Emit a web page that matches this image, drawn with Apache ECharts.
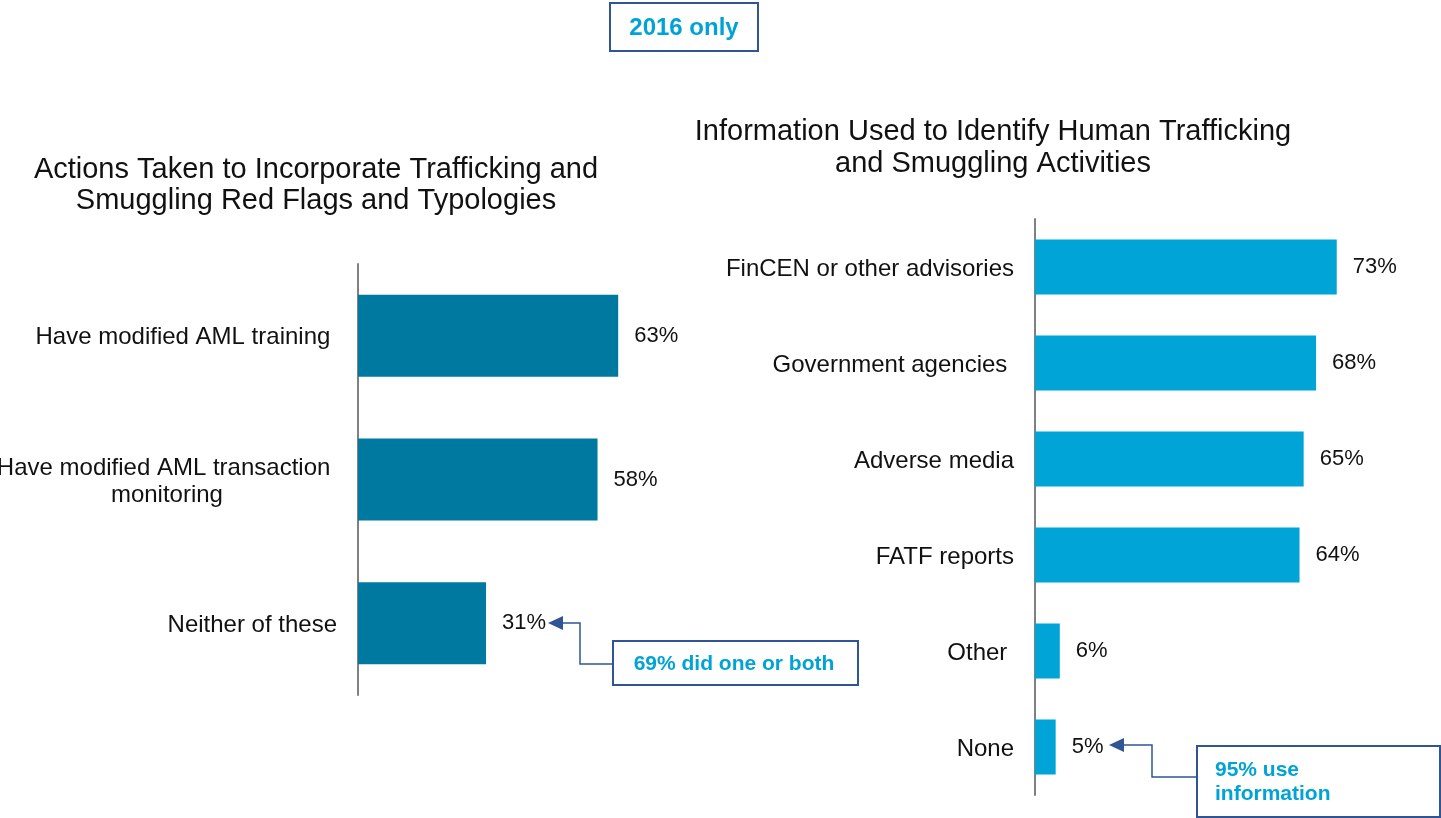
<!DOCTYPE html>
<html>
<head>
<meta charset="utf-8">
<script src="https://cdn.jsdelivr.net/npm/echarts@6/dist/echarts.min.js"></script>
<style>
  html, body { margin: 0; padding: 0; background: #fff; }
  #chart { width: 1441px; height: 818px; }
</style>
</head>
<body>
<div id="chart"></div>
<script>
// left panel: actions taken
const actionLabels = ['Have modified AML training ', 'Have modified AML transaction \nmonitoring', 'Neither of these'];
const actionValues = [63, 58, 31];

// right panel: information used
const infoLabels = ['FinCEN or other advisories', 'Government agencies ', 'Adverse media', 'FATF reports', 'Other ', 'None'];
const infoValues = [73, 68, 65, 64, 6, 5];

const FONT = 'Liberation Sans, Arial, sans-serif';
const boxBlue = '#2F5597';
const textBlue = '#00A3D6';

const chart = echarts.init(document.getElementById('chart'));

const catAxis = (grid, labels) => ({
  type: 'category',
  gridIndex: grid,
  data: labels,
  inverse: true,
  axisLine: { show: true, lineStyle: { color: '#808080', width: 2 } },
  axisTick: { show: false },
  splitLine: { show: false },
  axisLabel: {
    margin: 21,
    align: 'right',
    formatter: v => '{c|' + v + '}',
    rich: { c: { fontFamily: FONT, fontSize: 24, color: '#111', align: 'center', lineHeight: 27, padding: [4, 0, 0, 0] } }
  }
});

const valLabel = {
  show: true,
  position: 'right',
  distance: 16,
  formatter: '{c}%',
  fontFamily: FONT,
  fontSize: 22,
  color: '#111',
  padding: [3, 0, 0, 0]
};

chart.setOption({
  animation: false,
  textStyle: { fontFamily: FONT },
  title: [
    {
      text: 'Actions Taken to Incorporate Trafficking and\nSmuggling Red Flags and Typologies',
      left: 311, top: 149, textAlign: 'center',
      textStyle: { fontFamily: FONT, fontSize: 29, fontWeight: 'normal', color: '#111', lineHeight: 31 }
    },
    {
      text: 'Information Used to Identify Human Trafficking\nand Smuggling Activities',
      left: 988, top: 111, textAlign: 'center',
      textStyle: { fontFamily: FONT, fontSize: 29, fontWeight: 'normal', color: '#111', lineHeight: 32 }
    }
  ],
  grid: [
    { left: 358, top: 264, width: 413, height: 431, outerBoundsMode: 'none', containLabel: false },
    { left: 1035, top: 219, width: 372, height: 576, outerBoundsMode: 'none', containLabel: false }
  ],
  xAxis: [
    { type: 'value', gridIndex: 0, min: 0, max: 100, show: false },
    { type: 'value', gridIndex: 1, min: 0, max: 90, show: false }
  ],
  yAxis: [catAxis(0, actionLabels), catAxis(1, infoLabels)],
  series: [
    {
      type: 'bar', xAxisIndex: 0, yAxisIndex: 0,
      data: actionValues, barWidth: 82,
      itemStyle: { color: '#0079A0' },
      label: valLabel
    },
    {
      type: 'bar', xAxisIndex: 1, yAxisIndex: 1,
      data: infoValues, barWidth: 55,
      itemStyle: { color: '#00A4D6' },
      label: valLabel
    }
  ],
  graphic: [
    // "2016 only" tag
    { type: 'rect', shape: { x: 610, y: 3, width: 148, height: 48 }, style: { fill: '#fff', stroke: boxBlue, lineWidth: 2 } },
    { type: 'text', x: 684, y: 28, style: { text: '2016 only', fill: textBlue, font: 'bold 24px ' + FONT, align: 'center', verticalAlign: 'middle' } },

    // left callout
    { type: 'polyline', shape: { points: [[612, 664], [580, 664], [580, 623], [560, 623]] }, style: { stroke: boxBlue, lineWidth: 1.5, fill: null } },
    { type: 'polygon', shape: { points: [[548, 623], [563, 616], [563, 630]] }, style: { fill: boxBlue } },
    { type: 'rect', shape: { x: 613, y: 641, width: 245, height: 44 }, style: { fill: '#fff', stroke: boxBlue, lineWidth: 2 } },
    { type: 'text', x: 734, y: 664, style: { text: '69% did one or both', fill: textBlue, font: 'bold 21px ' + FONT, align: 'center', verticalAlign: 'middle' } },

    // right callout
    { type: 'polyline', shape: { points: [[1197, 777], [1152, 777], [1152, 745], [1122, 745]] }, style: { stroke: boxBlue, lineWidth: 1.5, fill: null } },
    { type: 'polygon', shape: { points: [[1109, 745], [1124, 738], [1124, 752]] }, style: { fill: boxBlue } },
    { type: 'rect', shape: { x: 1197, y: 746, width: 243, height: 71 }, style: { fill: '#fff', stroke: boxBlue, lineWidth: 2 } },
    { type: 'text', x: 1215, y: 782, style: { text: '95% use\ninformation', fill: textBlue, font: 'bold 21px ' + FONT, lineHeight: 24, align: 'left', verticalAlign: 'middle' } }
  ]
});
</script>
</body>
</html>
